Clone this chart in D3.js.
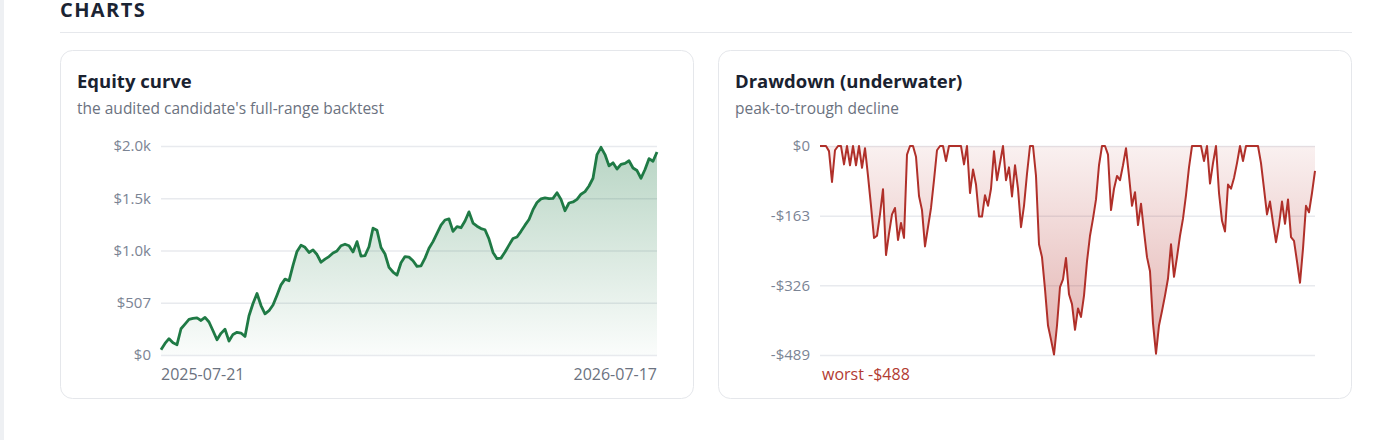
<!DOCTYPE html>
<html>
<head>
<meta charset="utf-8">
<script src="https://cdn.jsdelivr.net/npm/d3@7"></script>
<style>
  html, body { margin: 0; padding: 0; background: #fff; }
  body { width: 1400px; height: 440px; overflow: hidden; font-family: "Open Sans", "Noto Sans", sans-serif; }
  svg text { font-family: "Open Sans", "Noto Sans", sans-serif; }
</style>
</head>
<body>
<svg id="page" width="1400" height="440"></svg>
<script>
// data
const equityValues = [
  52, 112, 158, 118, 100, 255, 300, 345, 355, 360,
  335, 365, 320, 235, 148, 210, 250, 135, 200, 220,
  213, 180, 381, 500, 597, 480, 400, 430, 485, 580,
  681, 736, 720, 870, 1005, 1066, 1045, 995, 1020, 975,
  900, 930, 955, 990, 1010, 1060, 1075, 1060, 1000, 1100,
  960, 965, 1050, 1230, 1210, 1043, 980, 850, 805, 775,
  895, 955, 950, 915, 860, 865, 940, 1035, 1100, 1180,
  1260, 1310, 1320, 1200, 1245, 1235, 1300, 1389, 1280, 1250,
  1227, 1215, 1125, 995, 935, 940, 1000, 1066, 1130, 1145,
  1200, 1260, 1315, 1410, 1480, 1515, 1525, 1518, 1520, 1575,
  1510, 1400, 1475, 1485, 1510, 1560, 1585, 1640, 1715, 1945,
  2015, 1945, 1835, 1865, 1805, 1850, 1860, 1885, 1815, 1790,
  1715, 1800, 1905, 1880, 1970
];
const equityTicks = [0, 507, 1014, 1521, 2028];
const equityTickLabels = ["$0", "$507", "$1.0k", "$1.5k", "$2.0k"];
const dateLabels = ["2025-07-21", "2026-07-17"];

const drawdownValues = [
  0, 0, 0, -12, -84, -10, 0, 0, -43, 0,
  -45, 0, -45, 0, -51, -5, -70, -140, -215, -210,
  -160, -101, -255, -205, -160, -145, -220, -180, -215, -20,
  0, 0, -25, -117, -150, -235, -190, -145, -80, -10,
  0, 0, -35, 0, 0, 0, 0, 0, -43, 0,
  -110, -55, -90, -165, -165, -115, -140, -100, -12, -80,
  -40, 0, -80, -50, -118, -45, -100, -190, -140, -65,
  0, 0, -70, -230, -260, -335, -420, -453, -488, -420,
  -330, -312, -262, -347, -370, -430, -380, -400, -350, -270,
  -210, -170, -125, -45, 0, 0, -20, -150, -100, -70,
  -80, -45, -5, -70, -140, -108, -185, -135, -200, -260,
  -293, -415, -486, -420, -386, -350, -310, -230, -306, -260,
  -210, -170, -115, -50, 0, 0, 0, 0, -35, 0,
  -88, -40, 0, -110, -175, -200, -90, -100, -75, -40,
  0, -35, 0, 0, 0, 0, 0, -40, -100, -160,
  -130, -180, -225, -185, -130, -182, -125, -213, -222, -270,
  -320, -240, -140, -155, -110, -58
];
const drawdownTicks = [0, -163, -326, -489];
const drawdownTickLabels = ["$0", "-$163", "-$326", "-$489"];
const worstLabel = "worst -$488";

const svg = d3.select("#page");
const defs = svg.append("defs");

// left edge strip + section heading
svg.append("rect").attr("x", 0).attr("y", 0).attr("width", 4).attr("height", 440).attr("fill", "#eef0f3");
svg.append("text")
  .attr("x", 60).attr("y", 17)
  .attr("font-size", 20).attr("font-weight", 700)
  .attr("letter-spacing", 1.4)
  .attr("fill", "#1b2433")
  .text("CHARTS");
svg.append("line")
  .attr("x1", 60).attr("x2", 1352).attr("y1", 32.5).attr("y2", 32.5)
  .attr("stroke", "#e6e8ec");

const card = (x, title, sub) => {
  svg.append("rect")
    .attr("x", x + 0.5).attr("y", 50.5).attr("width", 633).attr("height", 348)
    .attr("rx", 12).attr("fill", "#fff").attr("stroke", "#e5e7eb");
  svg.append("text").attr("x", x + 17).attr("y", 88)
    .attr("font-size", 18.5).attr("font-weight", 700).attr("fill", "#1a2230")
    .text(title);
  svg.append("text").attr("x", x + 17).attr("y", 114)
    .attr("font-size", 15.5).attr("fill", "#6b7280")
    .text(sub);
};

const styleAxis = (g) => {
  g.select(".domain").remove();
  g.selectAll(".tick line").attr("stroke", "#e8eaee").attr("stroke-width", 1.5);
  g.selectAll(".tick text").attr("font-size", 15).attr("fill", "#7b8494")
    .attr("font-family", "'Open Sans', 'Noto Sans', sans-serif");
};

// ---- equity curve
card(60, "Equity curve", "the audited candidate's full-range backtest");

const xE = d3.scaleLinear().domain([0, equityValues.length - 1]).range([161, 657]);
const yE = d3.scaleLinear().domain([0, 2028]).range([355, 146]);

svg.append("g")
  .attr("transform", "translate(161,0)")
  .call(d3.axisLeft(yE).tickValues(equityTicks).tickSize(-(657 - 161)).tickPadding(10)
    .tickFormat((d, i) => equityTickLabels[i]))
  .call(styleAxis);

const gGreen = defs.append("linearGradient").attr("id", "gGreen")
  .attr("gradientUnits", "userSpaceOnUse").attr("x1", 0).attr("x2", 0)
  .attr("y1", yE(2028)).attr("y2", yE(0));
gGreen.append("stop").attr("offset", 0).attr("stop-color", "#1f7a45").attr("stop-opacity", 0.32);
gGreen.append("stop").attr("offset", 1).attr("stop-color", "#1f7a45").attr("stop-opacity", 0.02);

svg.append("path")
  .datum(equityValues)
  .attr("fill", "url(#gGreen)")
  .attr("d", d3.area().x((d, i) => xE(i)).y0(yE(0)).y1(d => yE(d)));
svg.append("path")
  .datum(equityValues)
  .attr("fill", "none").attr("stroke", "#1f7a45").attr("stroke-width", 2.8)
  .attr("stroke-linejoin", "round")
  .attr("d", d3.line().x((d, i) => xE(i)).y(d => yE(d)));

svg.append("text").attr("x", xE(0)).attr("y", 380)
  .attr("font-size", 16).attr("fill", "#6b7280").text(dateLabels[0]);
svg.append("text").attr("x", xE(equityValues.length - 1)).attr("y", 380)
  .attr("text-anchor", "end")
  .attr("font-size", 16).attr("fill", "#6b7280").text(dateLabels[1]);

// ---- drawdown
card(718, "Drawdown (underwater)", "peak-to-trough decline");

const xD = d3.scaleLinear().domain([0, drawdownValues.length - 1]).range([820, 1315]);
const yD = d3.scaleLinear().domain([-489, 0]).range([355, 146]);

svg.append("g")
  .attr("transform", "translate(820,0)")
  .call(d3.axisLeft(yD).tickValues(drawdownTicks).tickSize(-(1315 - 820)).tickPadding(10)
    .tickFormat((d, i) => drawdownTickLabels[i]))
  .call(styleAxis);

const gRed = defs.append("linearGradient").attr("id", "gRed")
  .attr("gradientUnits", "userSpaceOnUse").attr("x1", 0).attr("x2", 0)
  .attr("y1", yD(0)).attr("y2", yD(-489));
gRed.append("stop").attr("offset", 0).attr("stop-color", "#b3322c").attr("stop-opacity", 0.07);
gRed.append("stop").attr("offset", 1).attr("stop-color", "#b3322c").attr("stop-opacity", 0.38);

svg.append("path")
  .datum(drawdownValues)
  .attr("fill", "url(#gRed)")
  .attr("d", d3.area().x((d, i) => xD(i)).y0(yD(0)).y1(d => yD(d)));
svg.append("path")
  .datum(drawdownValues)
  .attr("fill", "none").attr("stroke", "#b0302a").attr("stroke-width", 2)
  .attr("stroke-linejoin", "round")
  .attr("d", d3.line().x((d, i) => xD(i)).y(d => yD(d)));

svg.append("text").attr("x", xD(0) + 2).attr("y", 380)
  .attr("font-size", 16).attr("fill", "#b23b32").text(worstLabel);
</script>
</body>
</html>
